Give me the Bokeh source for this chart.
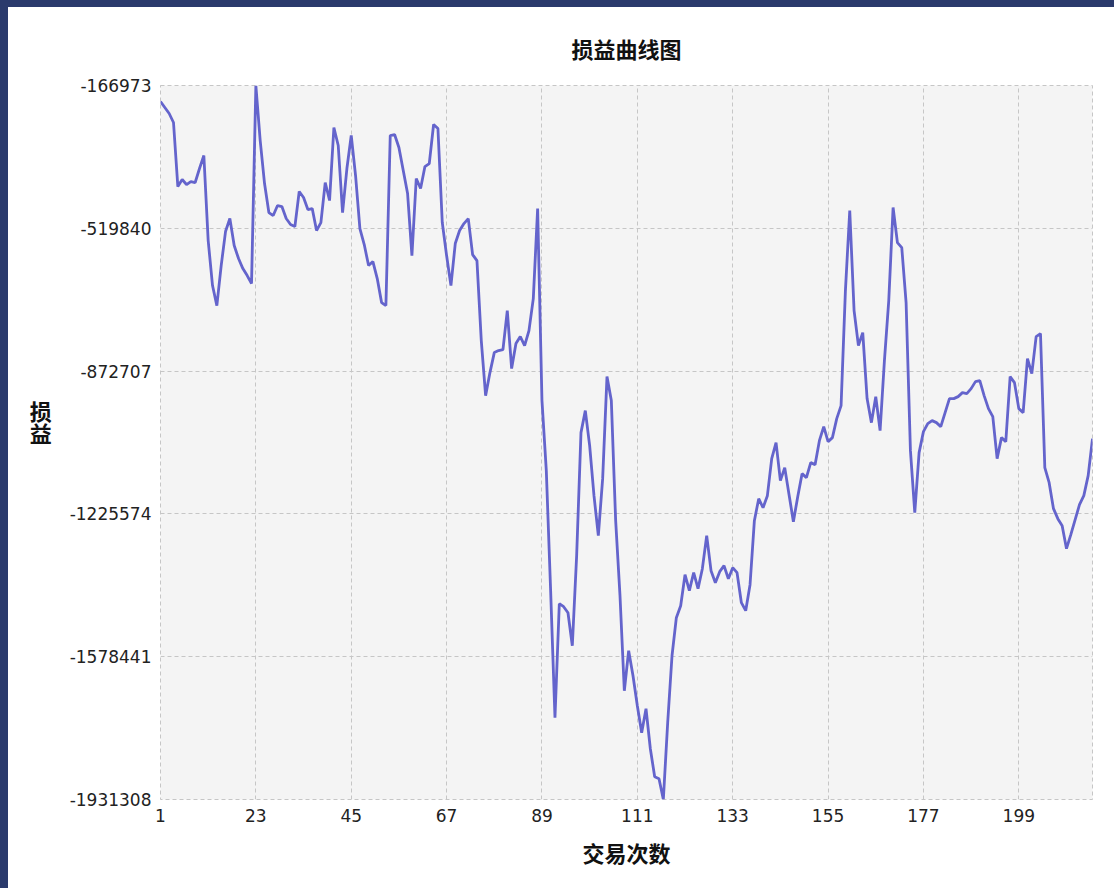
from bokeh.plotting import figure
from bokeh.models import FixedTicker, NumeralTickFormatter, Range1d
from bokeh.embed import file_html
from bokeh.resources import INLINE

# ---------------- data ----------------
trades = list(range(1, 217))
profit = [
    -206525, -221357, -236189, -258437, -416645, -399341, -411701, -404285, -406757, -372149,
    -340013, -550133, -661373, -710813, -611933, -527885, -495749, -562493, -594629, -619349,
    -636653, -656429, -166973, -302933, -409229, -480917, -488333, -463613, -466085, -495749,
    -510581, -515525, -429005, -443837, -473501, -471029, -525413, -505637, -406757, -451253,
    -270797, -315293, -480917, -372149, -290573, -389453, -520469, -560021, -611933, -602045,
    -644069, -703397, -710813, -290573, -288101, -320237, -377093, -433949, -587213, -396869,
    -421589, -367205, -359789, -263381, -273269, -505637, -587213, -661373, -557549, -525413,
    -508109, -495749, -584741, -599573, -797333, -933293, -876437, -826997, -822053, -819581,
    -723173, -866549, -804749, -787445, -809693, -772613, -693509, -471029, -945653, -1118693,
    -1415333, -1729277, -1447469, -1454885, -1469717, -1551293, -1328813, -1024757, -970373, -1056893,
    -1180493, -1279373, -1138469, -886325, -945653, -1242293, -1427693, -1662533, -1563653, -1625453,
    -1699613, -1766357, -1707029, -1805909, -1875125, -1880069, -1931308, -1741637, -1576013, -1482077,
    -1452413, -1375781, -1415333, -1370837, -1410389, -1360949, -1279373, -1365893, -1395557, -1368365,
    -1353533, -1385669, -1358477, -1370837, -1444997, -1464773, -1400501, -1242293, -1187909, -1210157,
    -1180493, -1089029, -1049477, -1143413, -1111277, -1178021, -1244765, -1182965, -1126109, -1135997,
    -1098917, -1103861, -1044533, -1009925, -1047005, -1037117, -990149, -958013, -673733, -475973,
    -723173, -809693, -777557, -940709, -1000037, -935765, -1019813, -846773, -698453, -468557,
    -555077, -567437, -703397, -1069253, -1222517, -1074197, -1022285, -1002509, -995093, -1000037,
    -1009925, -975317, -940709, -940709, -935765, -925877, -928349, -915989, -898685, -896213,
    -933293, -965429, -985205, -1089029, -1037117, -1047005, -886325, -901157, -965429, -975317,
    -841829, -878909, -787445, -780029, -1111277, -1148357, -1212629, -1237349, -1254653, -1311509,
    -1276901, -1239821, -1202741, -1180493, -1131053, -1039589,
]
x_ticks = [1, 23, 45, 67, 89, 111, 133, 155, 177, 199]
y_ticks = [-1931308, -1578441, -1225574, -872707, -519840, -166973]
title_text = "损益曲线图"
x_label = "交易次数"
y_label = "损\n益\n\u3000\n\u3000"   # two blank full-width lines lift the stacked label

# ---------------- figure ----------------
p = figure(
    width=1106, height=881,
    output_backend="svg", toolbar_location=None,
    x_range=Range1d(trades[0], trades[-1]),
    y_range=Range1d(min(profit), max(profit)),
    min_border_left=152, min_border_right=22,
    min_border_top=78, min_border_bottom=89,
    background_fill_color="#f4f4f4", border_fill_color="#ffffff",
    title=title_text,
)

p.title.align = "center"
p.title.text_font = "Noto Sans CJK SC"
p.title.text_font_size = "22px"
p.title.text_font_style = "bold"
p.title.text_color = "#111111"
p.title.standoff = 43

p.xaxis.ticker = FixedTicker(ticks=x_ticks)
p.yaxis.ticker = FixedTicker(ticks=y_ticks)
p.yaxis.formatter = NumeralTickFormatter(format="0")

for ax in (p.xaxis[0], p.yaxis[0]):
    ax.axis_line_color = None
    ax.major_tick_line_color = None
    ax.minor_tick_line_color = None
    ax.major_tick_in = 0
    ax.major_tick_out = 0
    ax.minor_tick_in = 0
    ax.minor_tick_out = 0
    ax.major_label_text_font = "DejaVu Sans"
    ax.major_label_text_font_size = "17px"
    ax.major_label_text_color = "#222222"
    ax.major_label_standoff = 9
    ax.axis_label_text_font = "Noto Sans CJK SC"
    ax.axis_label_text_font_size = "22px"
    ax.axis_label_text_font_style = "bold"
    ax.axis_label_text_color = "#111111"

p.xaxis.major_label_text_align = "left"
p.xaxis.axis_label = x_label
p.xaxis.axis_label_standoff = 11

p.yaxis.axis_label = y_label
p.yaxis.axis_label_orientation = "horizontal"
p.yaxis.axis_label_standoff = 15
p.yaxis.axis_label_text_line_height = 0.68

p.grid.grid_line_color = "#c6c6c6"
p.grid.grid_line_dash = "4 3"
p.grid.grid_line_width = 1
p.outline_line_color = "#c6c6c6"
p.outline_line_dash = "4 3"

p.line(trades, profit, line_color="#6464cc", line_width=2.8)

template = """{% block postamble %}
<style>
html, body { margin: 0 !important; padding: 0 !important; overflow: hidden; background: #ffffff; }
body { border-left: 8px solid #2a3a6c; border-top: 7px solid #2a3a6c; box-sizing: border-box; }
</style>
{% endblock %}"""

open("out.html", "w").write(file_html(p, INLINE, template=template))
